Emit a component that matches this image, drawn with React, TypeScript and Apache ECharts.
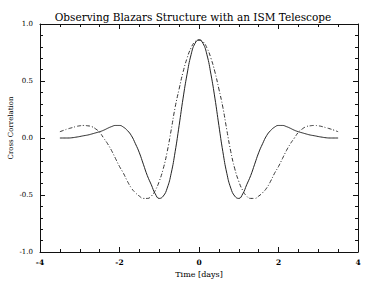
import React, { useEffect, useRef } from "react";
import * as echarts from "echarts";

const times = [
  -3.5, -3.4, -3.3, -3.2, -3.1, -3.0, -2.9, -2.8, -2.7, -2.6, -2.5, -2.4, -2.3, -2.2, -2.1, -2.0,
  -1.9, -1.8, -1.7, -1.6, -1.5, -1.4, -1.3, -1.2, -1.1, -1.0, -0.9, -0.8, -0.7, -0.6, -0.5, -0.4,
  -0.3, -0.2, -0.1, 0.0, 0.1, 0.2, 0.3, 0.4, 0.5, 0.6, 0.7, 0.8, 0.9, 1.0, 1.1, 1.2, 1.3, 1.4, 1.5,
  1.6, 1.7, 1.8, 1.9, 2.0, 2.1, 2.2, 2.3, 2.4, 2.5, 2.6, 2.7, 2.8, 2.9, 3.0, 3.1, 3.2, 3.3, 3.4, 3.5,
];

const solidValues = [
  0, 0, 0, 0.002, 0.007, 0.013, 0.02, 0.026, 0.035, 0.045, 0.055, 0.068, 0.085, 0.1, 0.11, 0.11,
  0.095, 0.065, 0.02, -0.05, -0.13, -0.23, -0.33, -0.41, -0.49, -0.53, -0.51, -0.44, -0.31, -0.12,
  0.11, 0.35, 0.56, 0.73, 0.83, 0.86, 0.83, 0.73, 0.56, 0.35, 0.11, -0.12, -0.31, -0.44, -0.51,
  -0.53, -0.49, -0.41, -0.33, -0.23, -0.13, -0.05, 0.02, 0.065, 0.095, 0.11, 0.11, 0.1, 0.085,
  0.068, 0.055, 0.045, 0.035, 0.026, 0.02, 0.013, 0.007, 0.002, 0, 0, 0,
];

const dashedValues = [
  0.055, 0.068, 0.08, 0.09, 0.1, 0.107, 0.11, 0.107, 0.1, 0.08, 0.05, 0.0, -0.05, -0.11, -0.18,
  -0.25, -0.31, -0.38, -0.44, -0.48, -0.51, -0.53, -0.53, -0.51, -0.46, -0.38, -0.27, -0.12, 0.07,
  0.27, 0.43, 0.58, 0.7, 0.79, 0.845, 0.86, 0.845, 0.79, 0.7, 0.58, 0.43, 0.27, 0.07, -0.12, -0.27,
  -0.38, -0.46, -0.51, -0.53, -0.53, -0.51, -0.48, -0.44, -0.38, -0.31, -0.25, -0.18, -0.11, -0.05,
  0.0, 0.05, 0.08, 0.1, 0.107, 0.11, 0.107, 0.1, 0.09, 0.08, 0.068, 0.055,
];

const titleText = "Observing Blazars Structure with an ISM Telescope";
const xAxisTitle = "Time [days]";
const yAxisTitle = "Cross Correlation";

const FONT = "DejaVu Serif";

export default function App() {
  const ref = useRef<HTMLDivElement>(null);

  useEffect(() => {
    if (!ref.current) return;
    const chart = echarts.init(ref.current, null, { renderer: "svg" });

    const lineCol = "#111";
    const axisCommon = (showLabel: boolean, split: number) => ({
      axisLine: { show: true, onZero: false, lineStyle: { color: lineCol, width: 1 } },
      axisTick: { show: true, inside: true, length: 5, lineStyle: { color: lineCol, width: 1 } },
      minorTick: { show: true, splitNumber: split, length: 3, lineStyle: { color: lineCol, width: 1 } },
      splitLine: { show: false },
      minorSplitLine: { show: false },
      axisLabel: { show: showLabel },
    });

    chart.setOption({
      animation: false,
      backgroundColor: "#fff",
      title: {
        text: titleText,
        left: "center",
        top: 11,
        padding: 0,
        textStyle: { fontFamily: FONT, fontSize: 10.5, fontWeight: "normal", color: "#000" },
      },
      grid: { left: 40, right: 28, top: 24, bottom: 32 },
      xAxis: [
        {
          type: "value",
          min: -4,
          max: 4,
          interval: 2,
          position: "bottom",
          ...axisCommon(true, 4),
          axisLabel: { show: true, fontFamily: FONT, fontSize: 7.5, fontWeight: "bold", color: "#000", margin: 6 },
          name: xAxisTitle,
          nameLocation: "middle",
          nameGap: 17,
          nameTextStyle: { fontFamily: FONT, fontSize: 8, color: "#000" },
        },
        {
          type: "value",
          min: -4,
          max: 4,
          interval: 2,
          position: "top",
          ...axisCommon(false, 4),
        },
      ],
      yAxis: [
        {
          type: "value",
          min: -1,
          max: 1,
          interval: 0.5,
          position: "left",
          ...axisCommon(true, 5),
          axisLabel: {
            show: true,
            fontFamily: FONT,
            fontSize: 7,
            color: "#000",
            margin: 7,
            formatter: (v: number) => v.toFixed(1),
          },
        },
        {
          type: "value",
          min: -1,
          max: 1,
          interval: 0.5,
          position: "right",
          ...axisCommon(false, 5),
        },
      ],
      graphic: [
        {
          type: "text",
          x: 11,
          y: 128,
          rotation: Math.PI / 2,
          style: {
            text: yAxisTitle,
            fontFamily: FONT,
            fontSize: 7,
            fill: "#000",
            textAlign: "center",
            textVerticalAlign: "middle",
          },
        },
      ],
      series: [
        {
          type: "line",
          xAxisIndex: 0,
          yAxisIndex: 0,
          data: times.map((t, i) => [t, solidValues[i]]),
          smooth: true,
          showSymbol: false,
          lineStyle: { color: "#222", width: 1 },
        },
        {
          type: "line",
          xAxisIndex: 0,
          yAxisIndex: 0,
          data: times.map((t, i) => [t, dashedValues[i]]),
          smooth: true,
          showSymbol: false,
          lineStyle: { color: "#333", width: 1, type: [4, 2, 1, 2] },
        },
      ],
    });

    return () => chart.dispose();
  }, []);

  return <div ref={ref} style={{ width: 386, height: 284, position: "absolute", left: 0, top: 0 }} />;
}
